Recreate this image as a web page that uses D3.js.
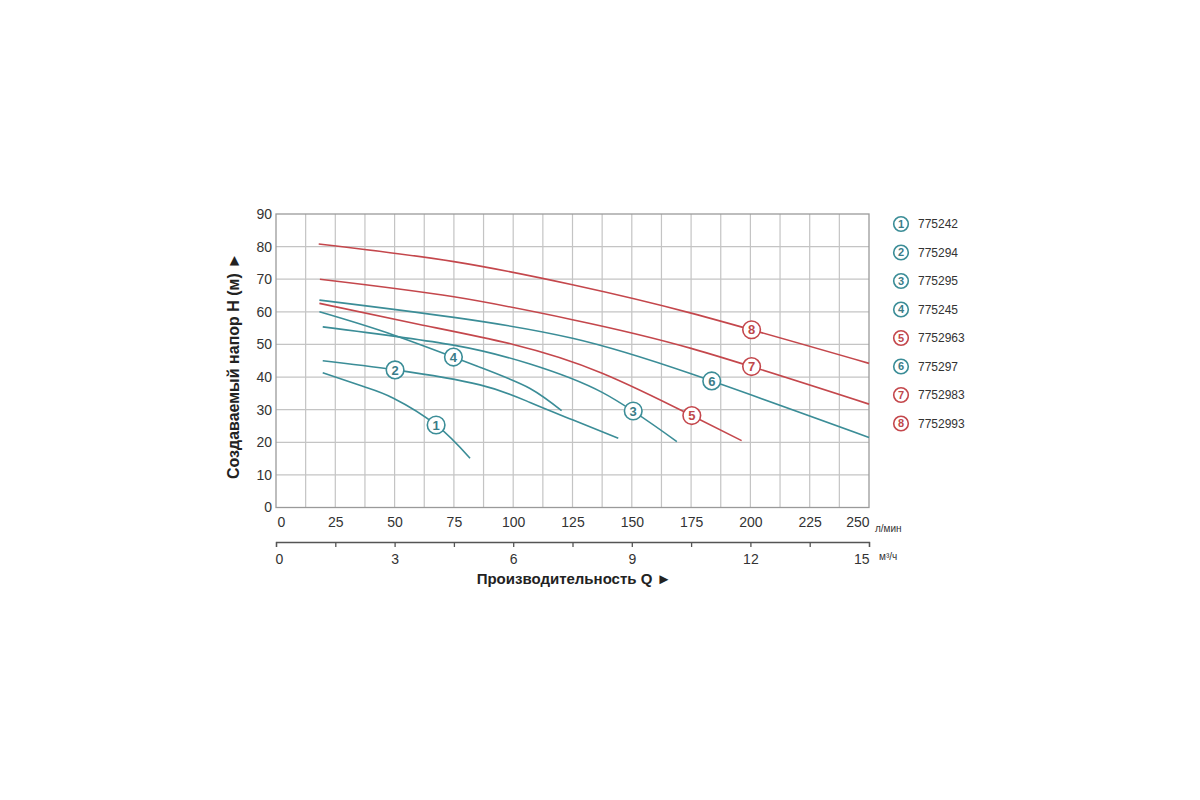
<!DOCTYPE html>
<html>
<head>
<meta charset="utf-8">
<script src="https://cdn.jsdelivr.net/npm/d3@7"></script>
<style>
  html, body { margin: 0; padding: 0; background: #ffffff; }
  svg { display: block; }
  text { font-family: "Liberation Sans", Arial, sans-serif; }
</style>
</head>
<body>
<svg id="chart" width="1200" height="800"></svg>
<script>
// ---------- data ----------
const flowTicks = [0, 25, 50, 75, 100, 125, 150, 175, 200, 225, 250];   // л/мин
const cubicTicks = [0, 3, 6, 9, 12, 15];                                 // м³/ч
const headTicks = [0, 10, 20, 30, 40, 50, 60, 70, 80, 90];               // м
const models = ["775242", "775294", "775295", "775245", "7752963", "775297", "7752983", "7752993"];
const curveNumbers = ["1", "2", "3", "4", "5", "6", "7", "8"];
const curveGroup = ["teal", "teal", "teal", "teal", "red", "teal", "red", "red"];

// each curve: [flow л/мин, head м]
const curve1 = [[19.7, 41.3], [37.2, 37.0], [49.5, 33.5], [67.5, 25.3], [81.8, 15.1]];
const curve2 = [[19.7, 45.0], [50.2, 42.2], [86, 37.6], [107.1, 32.2], [125, 26.9], [144.3, 21.2]];
const curve3 = [[19.7, 55.4], [74.8, 49.8], [107.1, 44.0], [137.5, 35.3], [169, 20.2]];
const curve4 = [[18.3, 60.0], [49.5, 52.9], [86, 43.0], [107.1, 36.5], [120.4, 29.7]];
const curve5 = [[18.3, 62.6], [60, 56.2], [100, 50.0], [137.5, 41.2], [175, 28.3], [196.3, 20.5]];
const curve6 = [[18.3, 63.6], [75, 58.3], [125, 51.9], [175, 41.0], [250, 21.5]];
const curve7 = [[18.5, 70.0], [75, 64.6], [125, 57.6], [175, 48.8], [250, 31.7]];
const curve8 = [[18, 80.8], [75, 75.4], [125, 68.3], [175, 59.6], [250, 44.2]];
const curves = [curve1, curve2, curve3, curve4, curve5, curve6, curve7, curve8];
// flow at which each numbered marker sits on its curve
const markerFlow = [67.5, 50.2, 150.6, 74.8, 175.3, 183.7, 200.5, 200.5];

// ---------- styles ----------
const lineColor = { teal: "#3b8d97", red: "#c4474c" };
const textColor = { teal: "#3a7c88", red: "#c0474b" };

const svg = d3.select("#chart");

const x = d3.scaleLinear().domain([0, 250]).range([276, 869]);
const xm = d3.scaleLinear().domain([0, 15]).range([276, 869]);
const y = d3.scaleLinear().domain([0, 90]).range([507.5, 214]);

// grid
const grid = svg.append("g");
grid.selectAll("line.v").data(d3.range(12.5, 250, 12.5)).enter().append("line")
  .attr("x1", d => x(d)).attr("x2", d => x(d))
  .attr("y1", y(0)).attr("y2", y(90))
  .attr("stroke", "#c4c4c4").attr("stroke-width", 1.2);
grid.selectAll("line.h").data(headTicks.slice(1, -1)).enter().append("line")
  .attr("x1", x(0)).attr("x2", x(250))
  .attr("y1", d => y(d)).attr("y2", d => y(d))
  .attr("stroke", "#c4c4c4").attr("stroke-width", 1.2);
svg.append("rect")
  .attr("x", x(0)).attr("y", y(90))
  .attr("width", x(250) - x(0)).attr("height", y(0) - y(90))
  .attr("fill", "none").attr("stroke", "#9a9a9a").attr("stroke-width", 1.3);

// y axis labels
const yAxis = svg.append("g").attr("transform", `translate(${x(0)},0)`)
  .call(d3.axisLeft(y).tickValues(headTicks).tickSize(0).tickPadding(4));
yAxis.select(".domain").remove();
yAxis.selectAll("text").attr("font-size", 14).attr("fill", "#333")
  .attr("font-family", "Liberation Sans, Arial, sans-serif");

// upper x axis labels (л/мин)
const xAxis = svg.append("g").attr("transform", `translate(0,${y(0)})`)
  .call(d3.axisBottom(x).tickValues(flowTicks).tickSize(0).tickPadding(10));
xAxis.select(".domain").remove();
xAxis.selectAll("text").attr("font-size", 14).attr("fill", "#333")
  .attr("font-family", "Liberation Sans, Arial, sans-serif")
  .attr("text-anchor", d => d === 0 ? "start" : (d === 250 ? "end" : "middle"))
  .attr("dx", d => d === 0 ? 1 : 0);
svg.append("text").attr("x", 875).attr("y", 532)
  .attr("font-size", 10).attr("fill", "#333").text("л/мин");

// lower x axis (м³/ч)
const xmAxis = svg.append("g").attr("transform", "translate(0,542)")
  .call(d3.axisBottom(xm).tickValues(d3.range(0, 15.01, 1.5)).tickSize(5).tickSizeOuter(5).tickPadding(7.5)
    .tickFormat(d => cubicTicks.includes(d) ? d : ""));
xmAxis.select(".domain").attr("stroke", "#555").attr("stroke-width", 1.3);
xmAxis.selectAll(".tick line").attr("stroke", "#555").attr("stroke-width", 1.3);
xmAxis.selectAll("text").attr("font-size", 14).attr("fill", "#333")
  .attr("font-family", "Liberation Sans, Arial, sans-serif")
  .attr("text-anchor", d => d === 0 ? "start" : (d === 15 ? "end" : "middle"))
  .attr("dx", d => d === 0 ? -1 : 0);
svg.append("text").attr("x", 879).attr("y", 560)
  .attr("font-size", 10).attr("fill", "#333").text("м³/ч");

// titles
svg.append("text")
  .attr("transform", "translate(239,366) rotate(-90)")
  .attr("text-anchor", "middle").attr("font-size", 16).attr("font-weight", "bold")
  .attr("fill", "#222").text("Создаваемый напор H (м) ►");
svg.append("text")
  .attr("x", 574).attr("y", 584)
  .attr("text-anchor", "middle").attr("font-size", 15).attr("font-weight", "bold")
  .attr("fill", "#222").text("Производительность Q ►");

// curves
const line = d3.line().x(d => x(d[0])).y(d => y(d[1])).curve(d3.curveNatural);
const paths = svg.append("g").selectAll("path").data(curves).enter().append("path")
  .attr("d", line)
  .attr("fill", "none")
  .attr("stroke", (d, i) => lineColor[curveGroup[i]])
  .attr("stroke-width", 1.6);

// markers sit exactly on the drawn curve at the given flow
function pointOnPath(pathNode, px) {
  const len = pathNode.getTotalLength();
  let lo = 0, hi = len;
  for (let k = 0; k < 40; k++) {
    const mid = (lo + hi) / 2;
    if (pathNode.getPointAtLength(mid).x < px) lo = mid; else hi = mid;
  }
  return pathNode.getPointAtLength((lo + hi) / 2);
}
const pathNodes = paths.nodes();
const markerPts = markerFlow.map((q, i) => pointOnPath(pathNodes[i], x(q)));
const markers = svg.append("g").selectAll("g").data(curves).enter().append("g")
  .attr("transform", (d, i) => `translate(${markerPts[i].x},${markerPts[i].y})`);
markers.append("circle").attr("r", 8.8)
  .attr("fill", "#fff")
  .attr("stroke", (d, i) => lineColor[curveGroup[i]]).attr("stroke-width", 1.6);
markers.append("text")
  .attr("text-anchor", "middle").attr("dy", "0.36em")
  .attr("font-size", 13).attr("font-weight", "bold")
  .attr("fill", (d, i) => textColor[curveGroup[i]])
  .text((d, i) => curveNumbers[i]);

// legend
const legend = svg.append("g").selectAll("g").data(models).enter().append("g")
  .attr("transform", (d, i) => `translate(901,${224 + i * 28.5})`);
legend.append("circle").attr("r", 7.3)
  .attr("fill", "#fff")
  .attr("stroke", (d, i) => lineColor[curveGroup[i]]).attr("stroke-width", 1.6);
legend.append("text")
  .attr("text-anchor", "middle").attr("dy", "0.36em")
  .attr("font-size", 11).attr("font-weight", "bold")
  .attr("fill", (d, i) => textColor[curveGroup[i]])
  .text((d, i) => curveNumbers[i]);
legend.append("text")
  .attr("x", 17).attr("dy", "0.36em")
  .attr("font-size", 12).attr("fill", "#333")
  .text(d => d);
</script>
</body>
</html>
